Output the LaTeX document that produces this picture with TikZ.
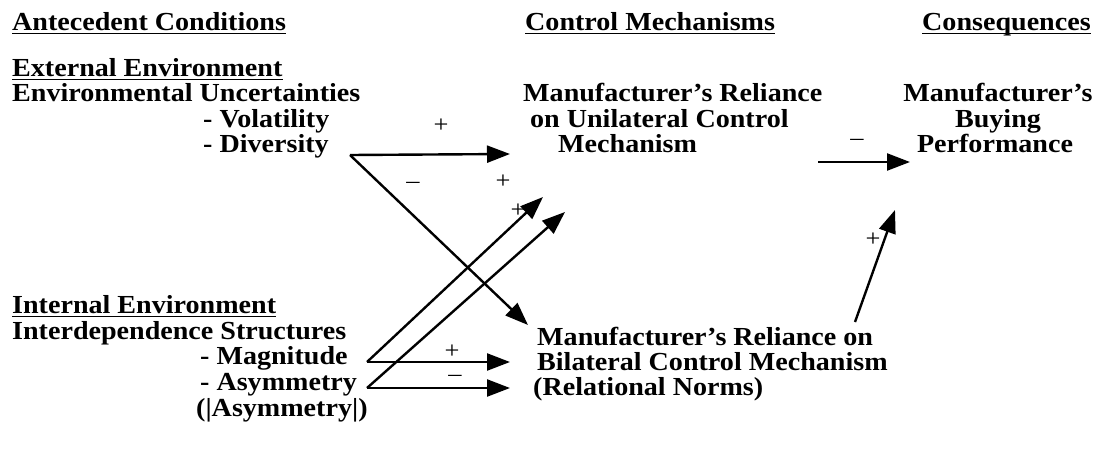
\documentclass[tikz,border=0pt]{standalone}
\usepackage{fontspec}
\usetikzlibrary{arrows.meta}
\newfontfamily\dfont{Liberation Serif}[FakeStretch=1.08]
\newfontfamily\sfont{Liberation Serif}[FakeStretch=1.1]
\begin{document}
\begin{tikzpicture}[x=1pt,y=-1pt,
  txt/.style={anchor=base west,inner sep=0pt,font=\dfont\bfseries\fontsize{26}{26}\selectfont},
  sgn/.style={inner sep=0pt,font=\sfont\fontsize{24}{24}\selectfont},
  conn/.style={line width=2.4pt,line join=miter},
  arr/.style={conn,-{Triangle[length=23pt,width=17pt]}},
  ul/.style={line width=1.5pt}]
\useasboundingbox[fill=white] (0,0) rectangle (1104,461);
% headings
\node[txt] (h1) at (12,30) {Antecedent Conditions};
\node[txt] (h2) at (525,30) {Control Mechanisms};
\node[txt] (h3) at (922,30) {Consequences};
% external
\node[txt] (ext) at (12,76) {External Environment};
\node[txt] (envu) at (12,101) {Environmental Uncertainties};
\node[txt] (vol) at (203,127) {- Volatility};
\node[txt] (div) at (203,152) {- Diversity};
% internal
\node[txt] (int) at (12,313) {Internal Environment};
\node[txt] (ids) at (12,339) {Interdependence Structures};
\node[txt] (mag) at (200,364) {- Magnitude};
\node[txt] (asy) at (200,390) {- Asymmetry};
\node[txt] (aasy) at (196,416) {(|Asymmetry|)};
% control mechanisms
\node[txt] (u1) at (523,101) {Manufacturer’s Reliance};
\node[txt] (u2) at (530,127) {on Unilateral Control};
\node[txt] (u3) at (558,152) {Mechanism};
\node[txt] (b1) at (537,345) {Manufacturer’s Reliance on};
\node[txt] (b2) at (537,370) {Bilateral Control Mechanism};
\node[txt] (b3) at (533,395) {(Relational Norms)};
% consequences
\node[txt,anchor=base] (c1) at (998,101) {Manufacturer’s};
\node[txt,anchor=base] (c2) at (998,127) {Buying};
\node[txt,anchor=base] (c3) at (995,152) {Performance};
% underlines
\foreach \n in {h1,h2,h3,ext,int}
  \draw[ul] ([yshift=-3.5pt]\n.base west) -- ([yshift=-3.5pt]\n.base east);
% connector points
\coordinate (vd) at (350,155);
\coordinate (vm) at (367,362);
\coordinate (va) at (367,388);
\coordinate (tU1) at (510,154);
\coordinate (tU2) at (543,197);
\coordinate (tU3) at (565,212);
\coordinate (tB1) at (528,325);
\coordinate (tB2) at (510,362);
\coordinate (tB3) at (510,388);
\coordinate (uo) at (818,162);
\coordinate (co) at (910,162);
\coordinate (bo) at (855,322);
\coordinate (ci) at (895,210);
% arrows
\draw[arr] (vd) -- (tU1);
\draw[arr] (vd) -- (tB1);
\draw[arr] (vm) -- (tU2);
\draw[arr] (va) -- (tU3);
\draw[arr] (vm) -- (tB2);
\draw[arr] (va) -- (tB3);
\draw[arr] (uo) -- (co);
\draw[arr] (bo) -- (ci);
% signs
\node[sgn] (s1) at (441,126) {+};
\node[sgn] (s2) at (413,185) {–};
\node[sgn] (s3) at (503,182) {+};
\node[sgn] (s4) at (518,211) {+};
\node[sgn] (s5) at (452,352) {+};
\node[sgn] (s6) at (455,378) {–};
\node[sgn] (s7) at (857,142) {–};
\node[sgn] (s8) at (873,240) {+};
\end{tikzpicture}
\end{document}
